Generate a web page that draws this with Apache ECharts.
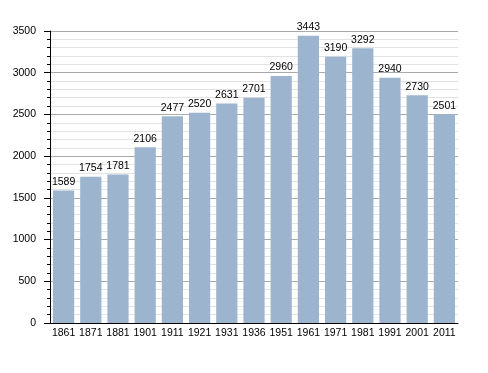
<!DOCTYPE html>
<html><head><meta charset="utf-8">
<script src="https://cdn.jsdelivr.net/npm/echarts@6/dist/echarts.min.js"></script>
<style>html,body{margin:0;padding:0;background:#fff}#c{width:488px;height:373px}</style>
</head><body><div id="c"></div>
<script>
var years = ['1861','1871','1881','1901','1911','1921','1931','1936','1951','1961','1971','1981','1991','2001','2011'];
var population = [1589,1754,1781,2106,2477,2520,2631,2701,2960,3443,3190,3292,2940,2730,2501];
var yTicks = [0,500,1000,1500,2000,2500,3000,3500];

var chart = echarts.init(document.getElementById('c'), null, {renderer:'canvas'});
chart.setOption({
  animation:false,
  backgroundColor:'#fff',
  grid:{left:50,right:30,top:31,bottom:50},
  xAxis:{
    type:'category', data:years,
    axisLine:{lineStyle:{color:'#000',width:1}},
    axisTick:{show:false},
    axisLabel:{color:'#000',fontFamily:'Liberation Sans',fontSize:10.5,margin:5,interval:0}
  },
  yAxis:{
    type:'value', min:yTicks[0], max:yTicks[yTicks.length-1], interval:500,
    axisLine:{show:true,lineStyle:{color:'#000',width:1}},
    axisTick:{show:true,length:6,lineStyle:{color:'#000'}},
    minorTick:{show:true,splitNumber:5,length:3,lineStyle:{color:'#000'}},
    splitLine:{show:true,lineStyle:{color:'#aaa',width:1}},
    minorSplitLine:{show:true,lineStyle:{color:'#e2e2e2',width:1}},
    axisLabel:{color:'#000',fontFamily:'Liberation Sans',fontSize:10.5,margin:14,
      formatter:function(v){return String(v);}}
  },
  series:[{
    type:'bar', data:population, barCategoryGap:'22%',
    itemStyle:{color:'#9db4cf'},
    label:{show:true,position:'top',distance:3,color:'#000',fontFamily:'Liberation Sans',fontSize:10.5}
  }]
});
</script></body></html>
